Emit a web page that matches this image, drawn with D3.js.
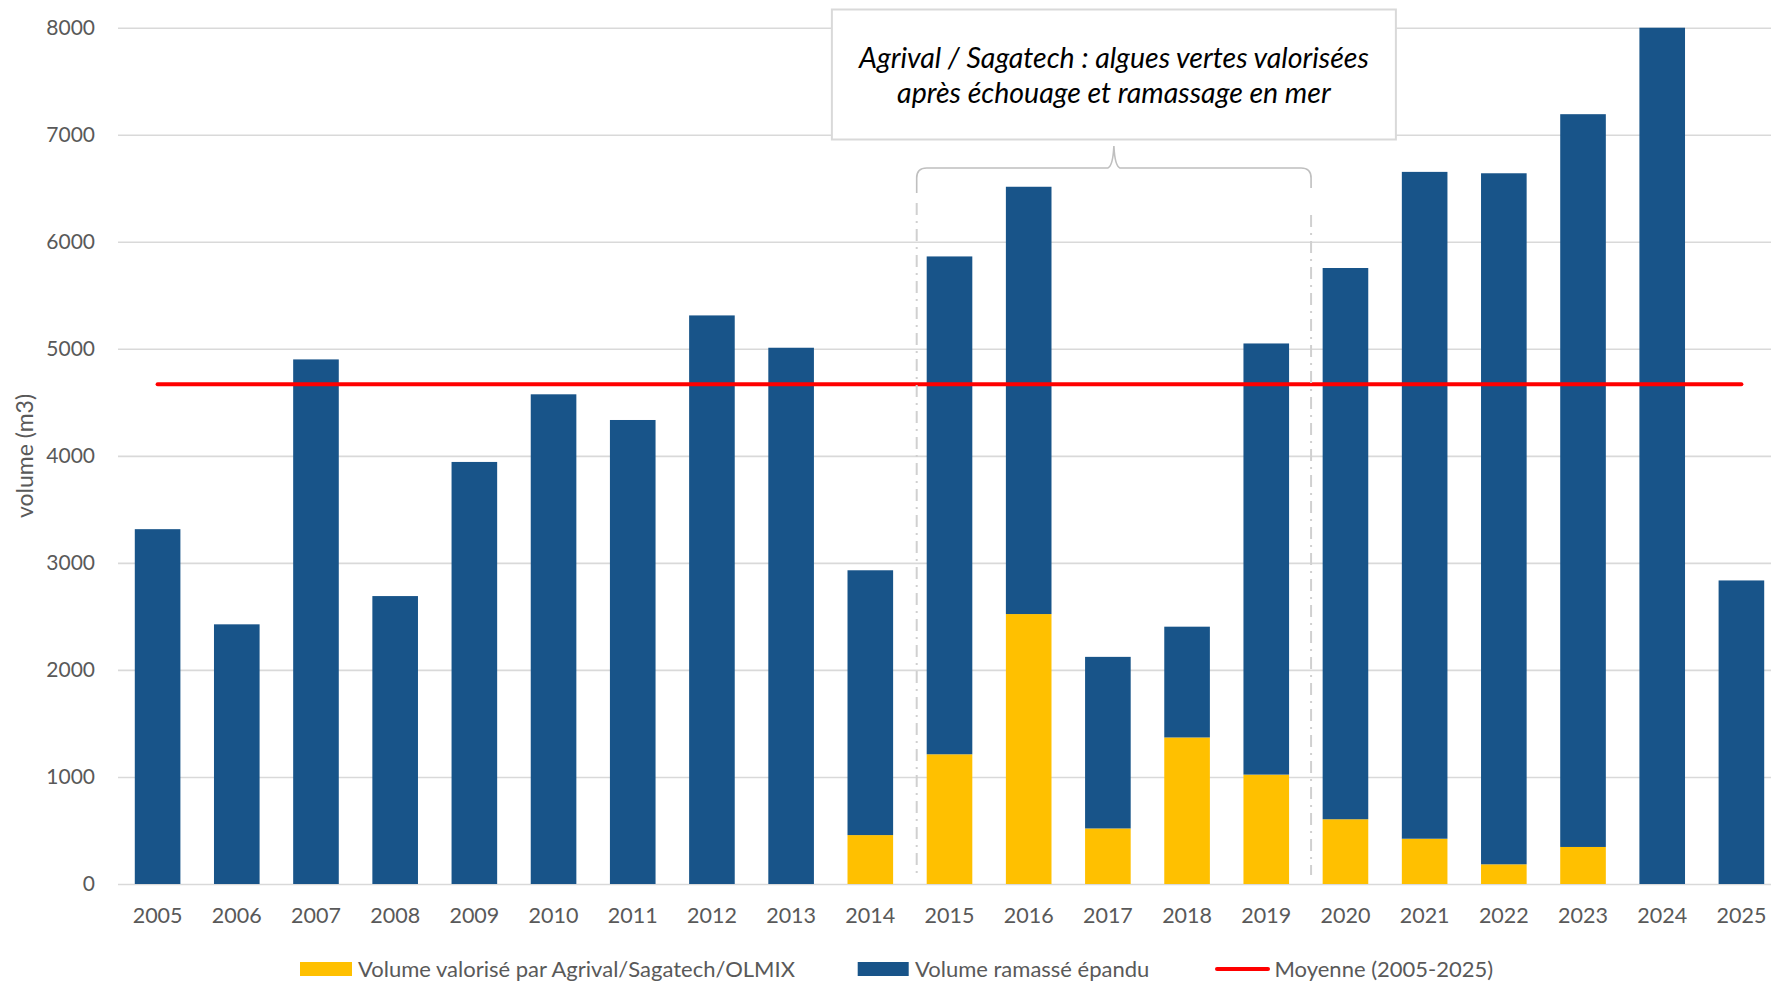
<!DOCTYPE html>
<html>
<head>
<meta charset="utf-8">
<script src="https://cdn.jsdelivr.net/npm/d3@7"></script>
<style>
	body { margin: 0; background: #fff; }
	text { font-family: Lato, 'Open Sans', sans-serif; }
</style>
</head>
<body>
<div id="chart"></div>
<script>
var years = ['2005', '2006', '2007', '2008', '2009', '2010', '2011', '2012', '2013', '2014', '2015',
	'2016', '2017', '2018', '2019', '2020', '2021', '2022', '2023', '2024', '2025'];

// volume valorise (jaune), en bas de la pile
var valorise = [0, 0, 0, 0, 0, 0, 0, 0, 0, 457, 1212, 2522, 519, 1369, 1022, 605, 423, 184, 346, 0, 0];

// volume ramasse epandu (bleu), au-dessus
var ramasse = [3315, 2426, 4901, 2690, 3943, 4575, 4335, 5312, 5010, 2474, 4651, 3992, 1603, 1035, 4028,
	5150, 6230, 6456, 6846, 8000, 2836];

var moyenne = 4670;

var yTicks = [0, 1000, 2000, 3000, 4000, 5000, 6000, 7000, 8000];

var legendLabels = ['Volume valorisé par Agrival/Sagatech/OLMIX', 'Volume ramassé épandu', 'Moyenne (2005-2025)'];

var annotationLines = ['Agrival / Sagatech : algues vertes valorisées', 'après échouage et ramassage en mer'];

var buildChart = function() {

	var W = 1771, H = 981;
	var colors = {valorise: '#FFC000', ramasse: '#185489'};

	var svg = d3.select('#chart')
		.append('svg')
		.attr('width', W)
		.attr('height', H);

	var table = years.map(function(y, i) {
		return {year: y, valorise: valorise[i], ramasse: ramasse[i]};
	});

	var x = d3.scaleBand()
		.domain(years)
		.range([118, 1781])
		.paddingInner(0.424)
		.paddingOuter(0.212);

	var y = d3.scaleLinear()
		.domain([0, 8000])
		.range([884, 27.7]);

	// grille
	var yAxis = d3.axisLeft(y)
		.tickValues(yTicks)
		.tickSize(-(W - 118))
		.tickPadding(23)
		.tickFormat(d3.format('d'));

	var gy = svg.append('g')
		.attr('class', 'y-axis')
		.attr('transform', 'translate(118,0)')
		.call(yAxis);
	gy.select('.domain').remove();
	gy.selectAll('line')
		.attr('stroke', '#D9D9D9')
		.attr('stroke-width', 1.6);
	gy.selectAll('text')
		.attr('fill', '#595959')
		.style('font-size', '21px');

	var xAxis = d3.axisBottom(x)
		.tickSize(0)
		.tickPadding(24);

	var gx = svg.append('g')
		.attr('class', 'x-axis')
		.attr('transform', 'translate(0,884)')
		.call(xAxis);
	gx.select('.domain').remove();
	gx.selectAll('text')
		.attr('fill', '#595959')
		.style('font-size', '21.5px');

	// barres empilees
	var stack = d3.stack().keys(['valorise', 'ramasse'])(table);

	svg.append('g')
		.selectAll('g')
		.data(stack)
		.enter()
		.append('g')
		.attr('fill', function(d) {return colors[d.key]})
		.selectAll('rect')
		.data(function(d) {return d})
		.enter()
		.filter(function(d) {return d[1] > d[0]})
		.append('rect')
		.attr('x', function(d) {return x(d.data.year)})
		.attr('y', function(d) {return y(d[1])})
		.attr('width', x.bandwidth())
		.attr('height', function(d) {return y(d[0]) - y(d[1])});

	// moyenne
	var half = x.bandwidth() / 2;
	svg.append('line')
		.attr('x1', x(years[0]) + half)
		.attr('x2', x(years[years.length - 1]) + half)
		.attr('y1', y(moyenne))
		.attr('y2', y(moyenne))
		.attr('stroke', '#FF0000')
		.attr('stroke-width', 4)
		.attr('stroke-linecap', 'round');

	// periode Agrival / Sagatech
	var left = x('2015') - 10,
		right = x('2019') + x.bandwidth() + 22,
		mid = (left + right) / 2;

	[[left, 203], [right, 215]].forEach(function(p) {
		svg.append('line')
			.attr('x1', p[0]).attr('x2', p[0])
			.attr('y1', p[1]).attr('y2', 875)
			.attr('stroke', '#D0D0D0')
			.attr('stroke-width', 2)
			.attr('stroke-dasharray', '12,6,2,6');
	});

	var by = 168;
	var brace = 'M' + left + ',193 L' + left + ',' + (by + 10)
		+ ' Q' + left + ',' + by + ' ' + (left + 10) + ',' + by
		+ ' L' + (mid - 6) + ',' + by
		+ ' Q' + (mid - 1) + ',' + (by - 2) + ' ' + mid + ',146'
		+ ' Q' + (mid + 1) + ',' + (by - 2) + ' ' + (mid + 6) + ',' + by
		+ ' L' + (right - 10) + ',' + by
		+ ' Q' + right + ',' + by + ' ' + right + ',' + (by + 10)
		+ ' L' + right + ',188';

	svg.append('path')
		.attr('d', brace)
		.attr('fill', 'none')
		.attr('stroke', '#BFBFBF')
		.attr('stroke-width', 1.6);

	svg.append('rect')
		.attr('x', mid - 282)
		.attr('y', 9.5)
		.attr('width', 564)
		.attr('height', 130)
		.attr('fill', '#fff')
		.attr('stroke', '#D9D9D9')
		.attr('stroke-width', 2);

	svg.append('g')
		.selectAll('text')
		.data(annotationLines)
		.enter()
		.append('text')
		.text(function(d) {return d})
		.attr('x', mid)
		.attr('y', function(d, i) {return 58 + i * 35})
		.attr('dy', '0.35em')
		.attr('text-anchor', 'middle')
		.attr('fill', '#000')
		.style('font-style', 'italic')
		.style('font-size', '28.5px');

	// titre axe
	svg.append('text')
		.text('volume (m3)')
		.attr('transform', 'translate(25,456) rotate(-90)')
		.attr('text-anchor', 'middle')
		.attr('dy', '0.35em')
		.attr('fill', '#595959')
		.style('font-size', '23px');

	// legende
	var ly = 969;
	var legend = svg.append('g');

	legend.append('rect')
		.attr('x', 300).attr('y', ly - 7)
		.attr('width', 52).attr('height', 14)
		.attr('fill', colors.valorise);
	legend.append('rect')
		.attr('x', 857.7).attr('y', ly - 7)
		.attr('width', 51).attr('height', 14)
		.attr('fill', colors.ramasse);
	legend.append('line')
		.attr('x1', 1217).attr('x2', 1268)
		.attr('y1', ly).attr('y2', ly)
		.attr('stroke', '#FF0000')
		.attr('stroke-width', 4)
		.attr('stroke-linecap', 'round');

	var lx = [358, 915, 1274.5];
	legend.selectAll('text')
		.data(legendLabels)
		.enter()
		.append('text')
		.text(function(d) {return d})
		.attr('x', function(d, i) {return lx[i]})
		.attr('y', ly)
		.attr('dy', '0.35em')
		.attr('fill', '#595959')
		.style('font-size', '22px');
};

buildChart();
</script>
</body>
</html>
